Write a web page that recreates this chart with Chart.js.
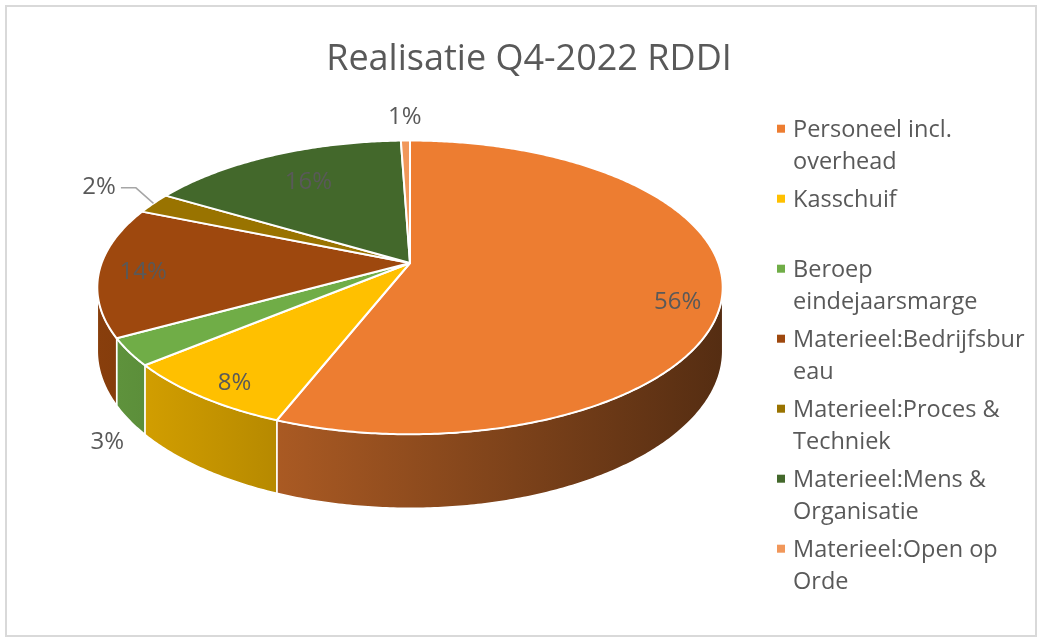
<!DOCTYPE html>
<html>
<head>
<meta charset="utf-8">
<script src="https://cdn.jsdelivr.net/npm/chart.js@4/dist/chart.umd.min.js"></script>
<style>
html,body{margin:0;padding:0;background:#fff;}
#wrap{width:1042px;height:643px;position:relative;}
</style>
</head>
<body>
<div id="wrap"><canvas id="c" width="1042" height="643"></canvas></div>
<script>
// ---------- data ----------
const chartTitle = 'Realisatie Q4-2022 RDDI';
const categories = [
  ['Personeel incl.', 'overhead'],
  ['Kasschuif'],
  ['Beroep', 'eindejaarsmarge'],
  ['Materieel:Bedrijfsbur', 'eau'],
  ['Materieel:Proces &', 'Techniek'],
  ['Materieel:Mens &', 'Organisatie'],
  ['Materieel:Open op', 'Orde']
];
const shares = [55.95, 8.0, 3.0, 14.3, 2.3, 15.9, 0.55];
const sliceColors = ['#ED7D31', '#FFC000', '#70AD47', '#9E480E', '#997300', '#43682B', '#F1975A'];

// ---------- styling ----------
const TEXT = '#595959';
const FONT = '"Open Sans", Lato, sans-serif';
const CAP = 0.714;
const TILT = { sx: 1.2384, sy: 0.5736, k: -0.166, depth: 0.248 };

function proj(cx, cy, R, th, f) {
  const u = f * Math.cos(th), v = f * Math.sin(th);
  const den = 1 + TILT.k * v;
  return { x: cx + R * TILT.sx * u / den, y: cy + R * TILT.sy * v / den, den: den, u: u, v: v };
}
function shade(hex, f) {
  const n = parseInt(hex.slice(1), 16);
  const r = Math.round(((n >> 16) & 255) * f), g = Math.round(((n >> 8) & 255) * f), b = Math.round((n & 255) * f);
  return 'rgb(' + r + ',' + g + ',' + b + ')';
}

// top face of every slice: drawn by the library's arc element, in perspective
const ArcEl = Chart.ArcElement || Chart.elements.ArcElement;
ArcEl.prototype.draw = function (ctx) {
  const p0 = this.getProps(['x', 'y', 'startAngle', 'endAngle', 'outerRadius']);
  const o = this.options;
  const a = p0.startAngle, b = p0.endAngle;
  const n = Math.max(2, Math.ceil((b - a) / 0.01));
  ctx.save();
  ctx.beginPath();
  ctx.moveTo(p0.x, p0.y);
  for (let i = 0; i <= n; i++) {
    const p = proj(p0.x, p0.y, p0.outerRadius, a + (b - a) * i / n, 1);
    ctx.lineTo(p.x, p.y);
  }
  ctx.closePath();
  ctx.fillStyle = o.backgroundColor;
  ctx.fill();
  ctx.lineJoin = 'round';
  ctx.strokeStyle = o.borderColor;
  ctx.lineWidth = o.borderWidth;
  ctx.stroke();
  ctx.restore();
};

const wallPlugin = {
  id: 'wall3d',
  beforeDatasetsDraw(chart) {
    const ctx = chart.ctx;
    const meta = chart.getDatasetMeta(0);
    const vis0 = Math.asin(-TILT.k), vis1 = Math.PI - vis0;
    meta.data.forEach((arc, i) => {
      const g0 = arc.getProps(['x', 'y', 'startAngle', 'endAngle', 'outerRadius']);
      const R = g0.outerRadius;
      const a = Math.max(g0.startAngle, vis0), b = Math.min(g0.endAngle, vis1);
      if (b <= a) return;
      const n = Math.max(2, Math.ceil((b - a) / 0.01));
      const pts = [];
      for (let j = 0; j <= n; j++) pts.push(proj(g0.x, g0.y, R, a + (b - a) * j / n, 1));
      ctx.save();
      ctx.beginPath();
      pts.forEach((p, j) => j ? ctx.lineTo(p.x, p.y) : ctx.moveTo(p.x, p.y));
      for (let j = pts.length - 1; j >= 0; j--) {
        const p = pts[j];
        ctx.lineTo(p.x, p.y + R * TILT.depth / p.den);
      }
      ctx.closePath();
      const xl = g0.x - R * TILT.sx * 1.014, xr = g0.x + R * TILT.sx * 1.014;
      const grad = ctx.createLinearGradient(xl, 0, xr, 0);
      const col = sliceColors[i];
      grad.addColorStop(0, shade(col, 0.86));
      grad.addColorStop(1, shade(col, 0.36));
      ctx.fillStyle = grad;
      ctx.fill();
      ctx.strokeStyle = '#ffffff';
      ctx.lineWidth = 1.5;
      ctx.lineJoin = 'round';
      ctx.stroke();
      ctx.restore();
    });
  }
};

const labelPlugin = {
  id: 'labels3d',
  afterDatasetsDraw(chart) {
    const ctx = chart.ctx;
    const meta = chart.getDatasetMeta(0);
    const vals = chart.data.datasets[0].data;
    const total = vals.reduce((s, v) => s + v, 0);
    const size = 24, capH = size * CAP;
    ctx.save();
    ctx.font = size + 'px ' + FONT;
    ctx.fillStyle = TEXT;
    ctx.textBaseline = 'alphabetic';
    ctx.textAlign = 'center';
    meta.data.forEach((arc, i) => {
      const g0 = arc.getProps(['x', 'y', 'startAngle', 'endAngle', 'outerRadius']);
      const R = g0.outerRadius;
      const frac = vals[i] / total;
      const txt = Math.round(frac * 100) + '%';
      const mid = (g0.startAngle + g0.endAngle) / 2;
      const w = ctx.measureText(txt).width;
      const u = Math.cos(mid), v = Math.sin(mid);
      if (frac >= 0.05) {
        const f = 0.86 - 0.17 * Math.max(0, -v);
        const p = proj(g0.x, g0.y, R, mid, f);
        const dy = frac > 0.5 ? 14 : Math.max(-3, 7 * v);
        ctx.fillText(txt, p.x, p.y + dy + capH / 2);
      } else {
        const rim = proj(g0.x, g0.y, R, mid, 1);
        const A = { x: rim.x, y: rim.y + (v > 0 ? R * TILT.depth / rim.den : 0) };
        const callout = v < 0 && u < -0.5;
        const gap = callout ? 44 : 17;
        const P = { x: A.x + u * gap, y: A.y + v * gap };
        const cx = P.x + u * w / 2, cy = P.y + v * capH / 2 + (v > 0 ? 6 : 0) + (callout ? 6 : 0);
        ctx.fillText(txt, cx + (v > 0 ? 6 : 0), cy + capH / 2);
        if (callout) {
          ctx.beginPath();
          ctx.strokeStyle = '#A6A6A6';
          ctx.lineWidth = 1.5;
          const ly = cy + 2;
          ctx.moveTo(A.x, A.y);
          ctx.lineTo(cx + w / 2 + 20, ly);
          ctx.lineTo(cx + w / 2 + 5, ly);
          ctx.stroke();
        }
      }
    });
    ctx.restore();
  },
  afterDraw(chart) {
    const ctx = chart.ctx;
    ctx.save();
    // frame
    ctx.strokeStyle = '#D9D9D9';
    ctx.lineWidth = 2;
    ctx.strokeRect(6, 6, 1030, 630);
    // title
    ctx.fillStyle = TEXT;
    ctx.font = '36px ' + FONT;
    ctx.textAlign = 'center';
    ctx.textBaseline = 'alphabetic';
    ctx.fillText(chartTitle, 529, 70);
    // legend
    const size = 23.5, capH = size * CAP;
    ctx.font = size + 'px ' + FONT;
    ctx.textAlign = 'left';
    chart.data.labels.forEach((lines, i) => {
      const yc = 128.7 + 70 * i;
      ctx.fillStyle = sliceColors[i];
      ctx.fillRect(777, yc - 4, 8, 8);
      ctx.fillStyle = TEXT;
      lines.forEach((ln, j) => ctx.fillText(ln, 793, yc + 32 * j + capH / 2));
    });
    ctx.restore();
  }
};

new Chart(document.getElementById('c'), {
  type: 'pie',
  data: {
    labels: categories,
    datasets: [{
      data: shares,
      backgroundColor: sliceColors,
      borderColor: '#ffffff',
      borderWidth: 2
    }]
  },
  options: {
    responsive: false,
    animation: false,
    events: [],
    layout: { padding: { left: 10, right: 232, top: 13, bottom: 130 } },
    plugins: {
      legend: { display: false },
      title: { display: false },
      tooltip: { enabled: false }
    }
  },
  plugins: [wallPlugin, labelPlugin]
});
</script>
</body>
</html>
